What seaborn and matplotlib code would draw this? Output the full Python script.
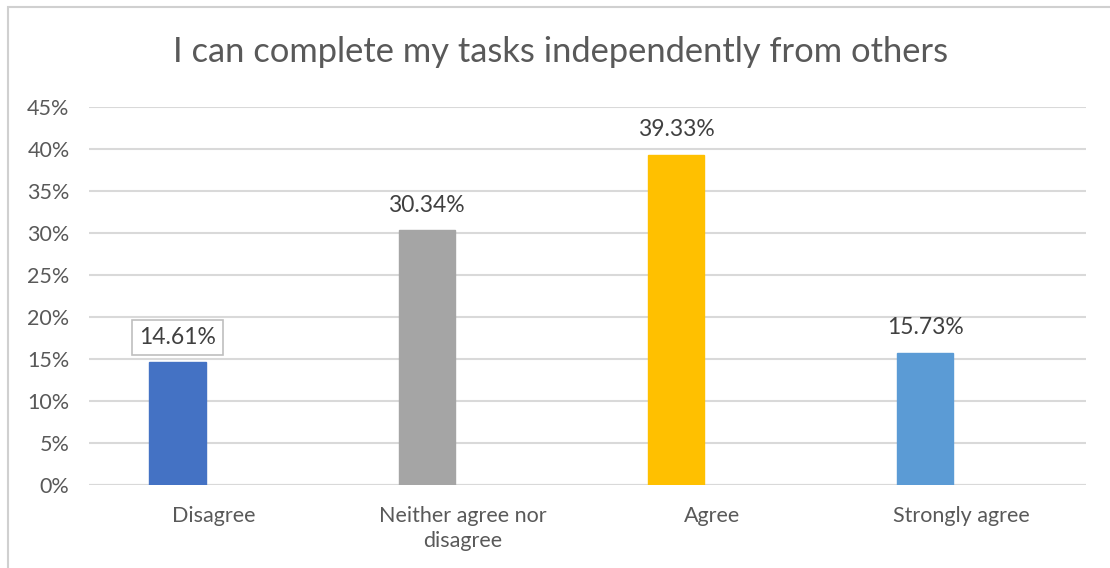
import matplotlib
matplotlib.use("Agg")
import matplotlib.pyplot as plt
import seaborn as sns
import pandas as pd
import numpy as np
from matplotlib.patches import Rectangle

# Survey responses
categories = ["Disagree", "Neither agree nor\ndisagree", "Agree", "Strongly agree"]
shares = [14.61, 30.34, 39.33, 15.73]
bar_colors = ["#4472C4", "#A5A5A5", "#FFC000", "#5B9BD5"]
y_ticks = [0, 5, 10, 15, 20, 25, 30, 35, 40, 45]
title = "I can complete my tasks independently from others"

sns.set_theme(style="white")
plt.rcParams["font.family"] = ["Lato", "DejaVu Sans"]

text_color = "#595959"
grid_color = "#D9D9D9"

# Two series per category: the responses and an empty companion series,
# so the response bar sits in the left slot of each category.
df = pd.DataFrame({
    "category": categories * 2,
    "share": shares + [np.nan] * len(shares),
    "series": ["Responses"] * len(shares) + ["Other"] * len(shares),
})

fig = plt.figure(figsize=(11.10, 5.68), dpi=100)
ax = fig.add_axes([89 / 1110, 1 - 485 / 568, (1086 - 89) / 1110, (485 - 107) / 568])

sns.barplot(data=df, x="category", y="share", hue="series",
            hue_order=["Responses", "Other"], order=categories,
            dodge=True, width=0.58, gap=0.224, legend=False, ax=ax,
            saturation=1, zorder=3)

for patch, color in zip(ax.containers[0], bar_colors):
    patch.set_facecolor(color)
    patch.set_edgecolor(color)

ax.set_ylim(0, 45)
ax.set_yticks(y_ticks)
ax.set_yticklabels([f"{t}%" for t in y_ticks])
ax.set_xlim(-0.5, len(categories) - 0.5)
ax.yaxis.grid(True, color=grid_color, linewidth=1.5, zorder=0)
ax.set_axisbelow(True)
for s in ax.spines.values():
    s.set_visible(False)
ax.axhline(0, color=grid_color, linewidth=1.5, zorder=1)
ax.tick_params(axis="both", length=0, labelsize=15.5, colors=text_color)
ax.tick_params(axis="y", pad=14)
ax.tick_params(axis="x", pad=15)
for lbl in ax.get_xticklabels():
    lbl.set_linespacing(1.35)
ax.set_xlabel("")
ax.set_ylabel("")

# Value labels above each response bar
for patch, v in zip(ax.containers[0], shares):
    xc = patch.get_x() + patch.get_width() / 2
    kw = {}
    if v == shares[0]:
        kw["bbox"] = dict(boxstyle="square,pad=0.3", facecolor="white",
                          edgecolor="#BFBFBF", linewidth=1.2)
    ax.annotate(f"{v:.2f}%", xy=(xc, v), xytext=(0, 18),
                textcoords="offset points", ha="center", va="center",
                fontsize=16.5, color="#404040", zorder=5, **kw)

fig.text(561 / 1110, 1 - 52 / 568, title, ha="center", va="center",
         fontsize=24.8, color=text_color)

# Chart-area frame
fig.patches.append(Rectangle((8 / 1110, -0.05), 1.1, 1.05 - 7 / 568,
                             transform=fig.transFigure, fill=False,
                             edgecolor="#D0D0D0", linewidth=1.5))

fig.savefig("out.png", dpi=100, facecolor="white")
